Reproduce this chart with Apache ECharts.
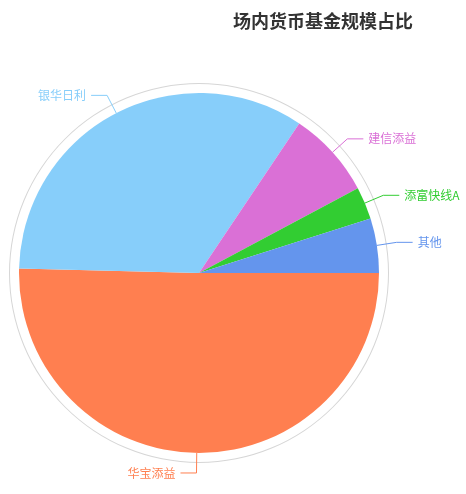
<!DOCTYPE html>
<html>
<head>
<meta charset="utf-8">
<script src="https://cdn.jsdelivr.net/npm/echarts@6/dist/echarts.min.js"></script>
<style>
html,body{margin:0;padding:0;background:#fff;}
#main{width:466px;height:494px;}
</style>
</head>
<body>
<div id="main"></div>
<script>
const titleText = '场内货币基金规模占比';
const categories = ['华宝添益', '银华日利', '建信添益', '添富快线A', '其他'];
const shares = [50.4, 34.0, 7.8, 2.9, 4.9];
const colors = ['#ff7f50', '#87cefa', '#da70d6', '#32cd32', '#6495ed'];

const chart = echarts.init(document.getElementById('main'), null, {renderer: 'canvas'});
const font = '"Noto Sans CJK SC", "Microsoft YaHei", sans-serif';

const pieData = categories.map((name, i) => ({
  name: name,
  value: shares[i],
  itemStyle: {color: colors[i]},
  label: {color: colors[i]},
  labelLine: {lineStyle: {color: colors[i]}}
}));

chart.setOption({
  animation: false,
  backgroundColor: '#fff',
  title: {
    text: titleText,
    left: 228,
    top: 7,
    textStyle: {fontSize: 18, fontWeight: 'bold', color: '#333', fontFamily: font}
  },
  series: [
    {
      type: 'pie',
      silent: true,
      center: [199, 273],
      radius: [189, 190],
      z: 1,
      label: {show: false},
      labelLine: {show: false},
      itemStyle: {color: '#d6d6d6', borderWidth: 0},
      emphasis: {disabled: true},
      data: [{name: 'ring', value: 1}]
    },
    {
      type: 'pie',
      center: [199, 273],
      radius: 180,
      startAngle: 0,
      clockwise: true,
      z: 2,
      itemStyle: {borderWidth: 0},
      label: {show: true, position: 'outside', fontSize: 12, fontFamily: font, overflow: 'none', edgeDistance: 0, bleedMargin: 0},
      labelLine: {show: true, length: 20, length2: 16, lineStyle: {width: 1}},
      emphasis: {disabled: true},
      data: pieData
    }
  ]
});
</script>
</body>
</html>
